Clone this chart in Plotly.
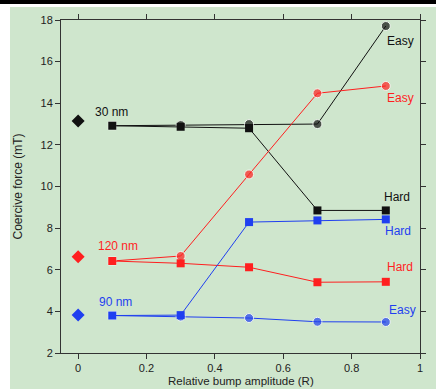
import plotly.graph_objects as go

x_vals = [0.1, 0.3, 0.5, 0.7, 0.9]
x_ref = [0.0]

# 30 nm (black)
black_ref = [13.15]
black_hard = [12.92, 12.87, 12.80, 8.85, 8.85]
black_easy = [12.92, 12.95, 13.00, 13.00, 17.71]

# 120 nm (red)
red_ref = [6.62]
red_hard = [6.42, 6.31, 6.12, 5.40, 5.42]
red_easy = [6.42, 6.66, 10.58, 14.48, 14.83]

# 90 nm (blue)
blue_ref = [3.82]
blue_hard = [3.80, 3.82, 8.29, 8.37, 8.42]
blue_easy = [3.80, 3.75, 3.68, 3.50, 3.49]

labels = [
    ("30 nm", 0.044, 13.58, "black"),
    ("Easy", 0.898, 16.99, "black"),
    ("Hard", 0.889, 9.49, "black"),
    ("120 nm", 0.053, 7.14, "red"),
    ("Easy", 0.898, 14.25, "red"),
    ("Hard", 0.898, 6.13, "red"),
    ("90 nm", 0.056, 4.45, "blue"),
    ("Easy", 0.904, 4.06, "blue"),
    ("Hard", 0.892, 7.86, "blue"),
]

colors = {"black": "#111111", "red": "#ff1f1f", "blue": "#1f3ff0"}

fig = go.Figure()

series = [
    ("black", black_ref, black_hard, black_easy),
    ("red", red_ref, red_hard, red_easy),
    ("blue", blue_ref, blue_hard, blue_easy),
]
for name, ref, hard, easy in series:
    c = colors[name]
    fig.add_trace(go.Scatter(
        x=x_vals, y=easy, mode="lines+markers",
        line=dict(color=c, width=1),
        marker=dict(symbol=["square"] + ["circle"] * 4, size=[8, 9, 9, 9, 9], color=c),
        showlegend=False, cliponaxis=False))
    fig.add_trace(go.Scatter(
        x=x_vals, y=hard, mode="lines+markers",
        line=dict(color=c, width=1),
        marker=dict(symbol="square", size=8, color=c),
        showlegend=False, cliponaxis=False))
    fig.add_trace(go.Scatter(
        x=x_ref, y=ref, mode="markers",
        marker=dict(symbol="diamond", size=10, color=c),
        showlegend=False, cliponaxis=False))

for text, lx, ly, cn in labels:
    fig.add_annotation(x=lx, y=ly, text=text, showarrow=False,
                       xanchor="left", yanchor="middle",
                       font=dict(color=colors[cn], size=12))

# axis title (x) placed below tick labels
fig.add_annotation(xref="paper", yref="paper", x=0.5, y=-0.083,
                   text="Relative bump amplitude (R)", showarrow=False,
                   xanchor="center", yanchor="middle",
                   font=dict(size=11.5, color="#222222"))

fig.add_shape(type="rect", xref="paper", yref="paper",
              x0=-0.142, x1=1.05, y0=-0.12, y1=1.039,
              fillcolor="#cfe6cd", line=dict(width=0), layer="below")
fig.add_shape(type="rect", xref="paper", yref="paper",
              x0=-0.2, x1=1.1, y0=1.048, y1=1.07,
              fillcolor="#000000", line=dict(width=0), layer="below")

axis_common = dict(showline=True, linecolor="#333333", linewidth=1,
                   mirror="allticks", ticks="outside", ticklen=5,
                   tickcolor="#333333", tickwidth=1, showgrid=False,
                   zeroline=False, automargin=False,
                   tickfont=dict(size=11, color="#222222"))

fig.update_xaxes(range=[-0.05, 1.0], tickvals=[0, 0.2, 0.4, 0.6, 0.8, 1],
                 ticktext=["0", "0.2", "0.4", "0.6", "0.8", "1"],
                 **axis_common)
fig.update_yaxes(range=[2, 18], tickvals=[2, 4, 6, 8, 10, 12, 14, 16, 18],
                 title=dict(text="Coercive force (mT)",
                            font=dict(size=12, color="#222222"), standoff=15),
                 **axis_common)

fig.update_layout(
    width=436, height=389,
    margin=dict(l=61, r=16, t=20, b=36),
    paper_bgcolor="white", plot_bgcolor="rgba(0,0,0,0)",
    font=dict(family="Liberation Sans, Arial, sans-serif"),
)

fig.write_html("out.html")
